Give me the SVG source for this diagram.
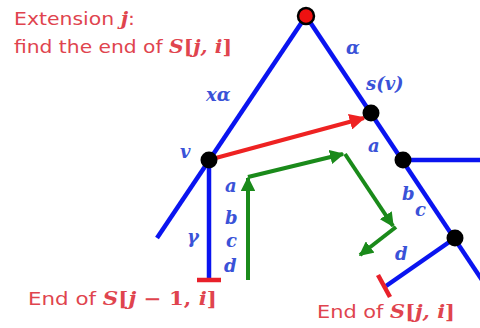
<svg xmlns="http://www.w3.org/2000/svg" width="480" height="328" viewBox="0 0 480 328">
<defs>
<marker id="ag" viewBox="0 0 10 10" refX="9" refY="5" markerWidth="3.6" markerHeight="3.6" orient="auto" markerUnits="strokeWidth"><path d="M0,0 L10,5 L0,10 Z" fill="#1a8a1a"/></marker>
<marker id="ar" viewBox="0 0 10 10" refX="9" refY="5" markerWidth="4" markerHeight="4" orient="auto" markerUnits="strokeWidth"><path d="M0,0 L10,5 L0,10 Z" fill="#ee2222"/></marker>
<style>
.tree{stroke:#0a14f0;stroke-width:4.5;fill:none;stroke-linecap:butt}
.node{fill:#000}
.g{stroke:#1a8a1a;stroke-width:4;fill:none}
.r{stroke:#ee2222;stroke-width:4;fill:none}
.tick{stroke:#e8202a;stroke-width:4.5}
.lab{font-family:"DejaVu Serif",serif;font-style:italic;font-weight:bold;font-size:18px;fill:#3a52d8}
.cap{font-family:"DejaVu Sans",sans-serif;font-size:18px;fill:#e0444e}
.m{font-family:"DejaVu Serif",serif;font-style:italic;font-weight:bold}
.n{font-family:"DejaVu Serif",serif;font-weight:bold;font-style:normal}
</style>
</defs>
<g id="connectors">
<line class="tree" x1="306" y1="16" x2="157" y2="238"/>
<line class="tree" x1="306" y1="16" x2="482" y2="280"/>
<line class="tree" x1="403" y1="160" x2="480" y2="160"/>
<line class="tree" x1="209" y1="160" x2="209" y2="280"/>
<line class="tree" x1="455" y1="238" x2="386" y2="286"/>
<line class="tick" x1="197" y1="280" x2="221" y2="280"/>
<line class="tick" x1="378" y1="275" x2="390" y2="297"/>
<line class="r" x1="212" y1="159" x2="364" y2="118" marker-end="url(#ar)"/>
<line class="g" x1="248" y1="280" x2="248" y2="178" marker-end="url(#ag)"/>
<line class="g" x1="248" y1="177" x2="343" y2="154" marker-end="url(#ag)"/>
<line class="g" x1="345" y1="154" x2="393" y2="226" marker-end="url(#ag)"/>
<line class="g" x1="396" y1="227" x2="360" y2="255" marker-end="url(#ag)"/>
</g>
<g id="root"><circle cx="306" cy="16" r="8" fill="#ee1111" stroke="#000" stroke-width="2.5"/></g>
<g id="v"><circle class="node" cx="209" cy="160" r="8.5"/><text class="lab" x="180" y="158">v</text></g>
<g id="sv"><circle class="node" cx="371" cy="113" r="8.5"/><text class="lab" x="366" y="90">s(v)</text></g>
<g id="n3"><circle class="node" cx="403" cy="160" r="8.5"/></g>
<g id="n4"><circle class="node" cx="455" cy="238" r="8.5"/></g>
<g id="labels">
<text class="lab" x="346" y="54">α</text>
<text class="lab" x="206" y="101">xα</text>
<text class="lab" x="368" y="152">a</text>
<text class="lab" x="402" y="200">b</text>
<text class="lab" x="415" y="216">c</text>
<text class="lab" x="395" y="260">d</text>
<text class="lab" x="225" y="192">a</text>
<text class="lab" x="225" y="224">b</text>
<text class="lab" x="226" y="247">c</text>
<text class="lab" x="224" y="272">d</text>
<text class="lab" x="187" y="243">γ</text>
</g>
<g id="captions">
<text class="cap" x="14" y="25" textLength="121" lengthAdjust="spacingAndGlyphs">Extension <tspan class="m">j</tspan>:</text>
<text class="cap" x="14" y="53" textLength="218" lengthAdjust="spacingAndGlyphs">find the end of <tspan class="m">S</tspan><tspan class="n">[</tspan><tspan class="m">j, i</tspan><tspan class="n">]</tspan></text>
<text class="cap" x="28" y="305" textLength="189" lengthAdjust="spacingAndGlyphs">End of <tspan class="m">S</tspan><tspan class="n">[</tspan><tspan class="m">j</tspan><tspan class="n"> − 1, </tspan><tspan class="m">i</tspan><tspan class="n">]</tspan></text>
<text class="cap" x="317" y="318" textLength="138" lengthAdjust="spacingAndGlyphs">End of <tspan class="m">S</tspan><tspan class="n">[</tspan><tspan class="m">j, i</tspan><tspan class="n">]</tspan></text>
</g>
</svg>
